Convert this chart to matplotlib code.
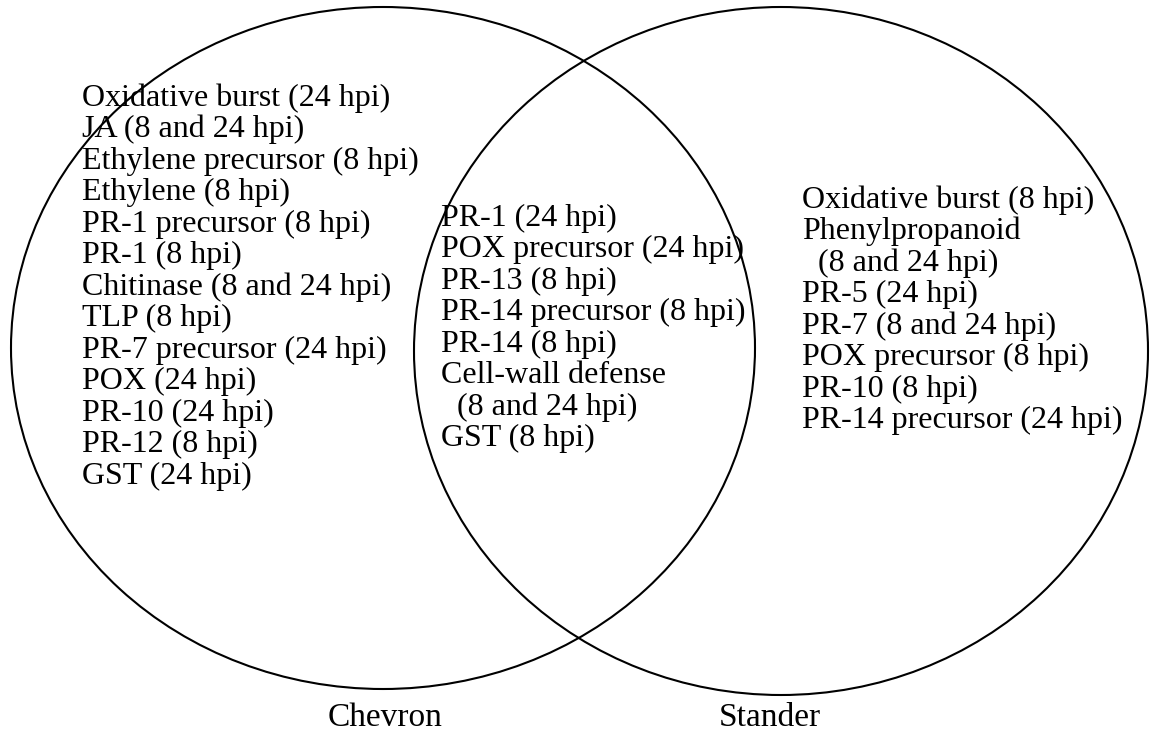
import matplotlib
matplotlib.use("Agg")
import matplotlib.pyplot as plt
from matplotlib.patches import Ellipse

W, H = 1152, 742

set_names = ["Chevron", "Stander"]

chevron_only = [
    "Oxidative burst (24 hpi)",
    "JA (8 and 24 hpi)",
    "Ethylene precursor (8 hpi)",
    "Ethylene (8 hpi)",
    "PR-1 precursor (8 hpi)",
    "PR-1 (8 hpi)",
    "Chitinase (8 and 24 hpi)",
    "TLP (8 hpi)",
    "PR-7 precursor (24 hpi)",
    "POX (24 hpi)",
    "PR-10 (24 hpi)",
    "PR-12 (8 hpi)",
    "GST (24 hpi)",
]

shared = [
    "PR-1 (24 hpi)",
    "POX precursor (24 hpi)",
    "PR-13 (8 hpi)",
    "PR-14 precursor (8 hpi)",
    "PR-14 (8 hpi)",
    "Cell-wall defense",
    "  (8 and 24 hpi)",
    "GST (8 hpi)",
]

stander_only = [
    "Oxidative burst (8 hpi)",
    "Phenylpropanoid",
    "  (8 and 24 hpi)",
    "PR-5 (24 hpi)",
    "PR-7 (8 and 24 hpi)",
    "POX precursor (8 hpi)",
    "PR-10 (8 hpi)",
    "PR-14 precursor (24 hpi)",
]

fig = plt.figure(figsize=(W / 100, H / 100), dpi=100)
ax = fig.add_axes([0, 0, 1, 1])
ax.set_xlim(0, W)
ax.set_ylim(H, 0)
ax.axis("off")

ax.add_patch(Ellipse((383, 348), 744, 682, fill=False, lw=1.5, ec="black"))
ax.add_patch(Ellipse((781, 351), 734, 688, fill=False, lw=1.5, ec="black"))

font = dict(family="Liberation Serif", fontsize=23, color="black", va="center", ha="left")
step = 31.5


def column(items, x, y0):
    for i, s in enumerate(items):
        ax.text(x, y0 + i * step, s, **font)


column(chevron_only, 82, 98)
column(shared, 441, 218)
column(stander_only, 802, 200)

ax.text(385, 718, set_names[0], family="Liberation Serif", fontsize=24, ha="center", va="center")
ax.text(770, 718, set_names[1], family="Liberation Serif", fontsize=24, ha="center", va="center")

fig.savefig("out.png", dpi=100, facecolor="white")
